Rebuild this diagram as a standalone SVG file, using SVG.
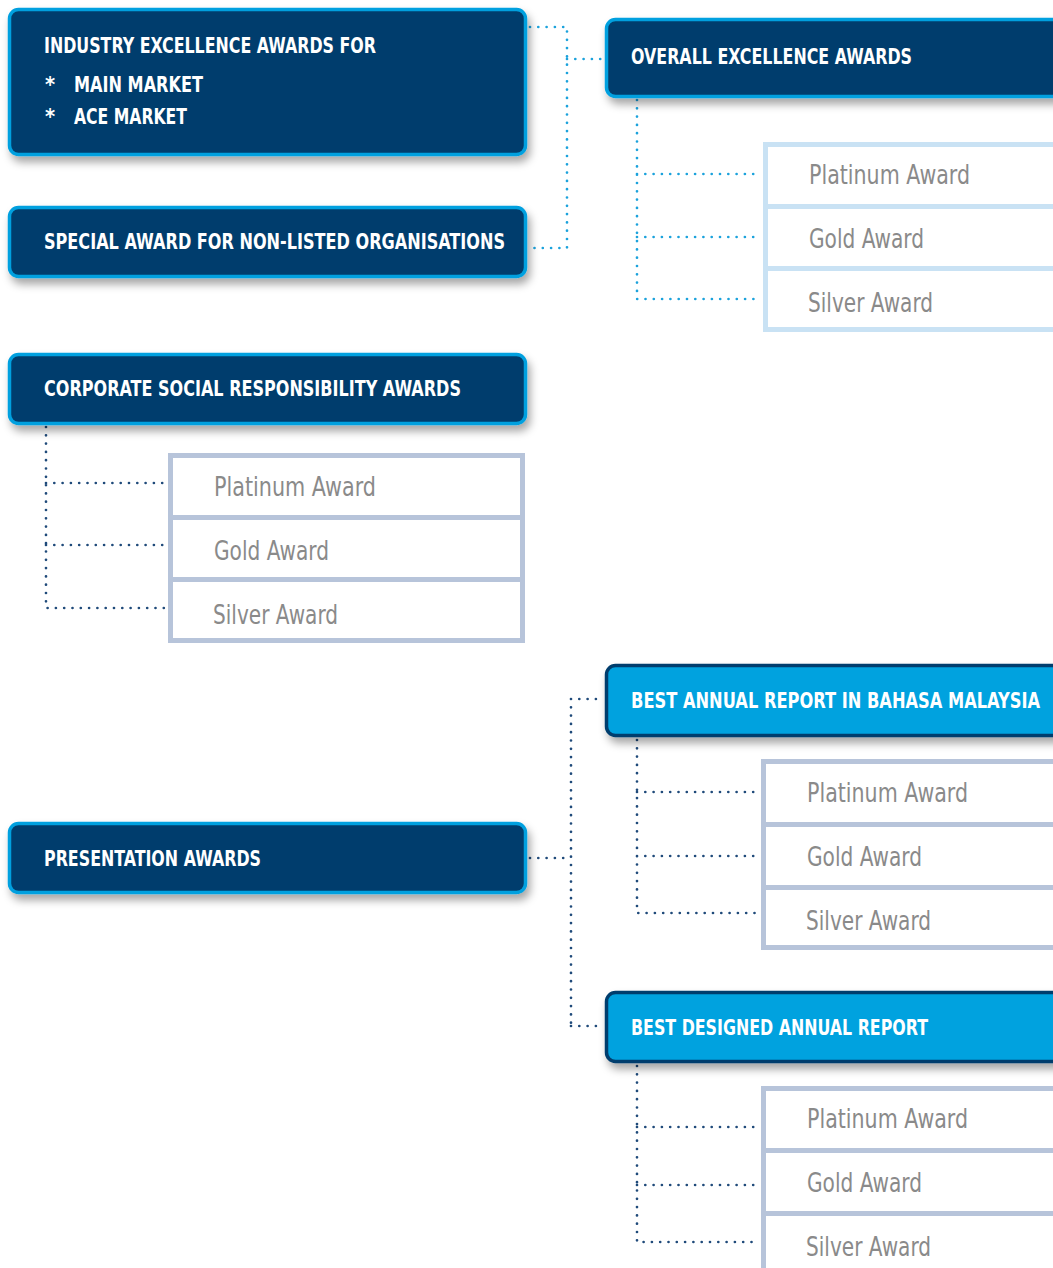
<svg xmlns="http://www.w3.org/2000/svg" width="1053" height="1268" viewBox="0 0 1053 1268">
<style>
.hd{fill:#003e6d;stroke:#00a0df;stroke-width:3.5}
.hl{fill:#00a2df;stroke:#003e6d;stroke-width:3.5}
.ht{font-family:"DejaVu Sans Condensed","Liberation Sans",sans-serif;font-weight:bold;font-size:21.5px;fill:#ffffff}
.lb{fill:#ffffff;stroke:#c9e2f4;stroke-width:5}
.lg{fill:#ffffff;stroke:#b7c4da;stroke-width:5}
.dl{stroke:#c9e2f4;stroke-width:5}
.dg{stroke:#b7c4da;stroke-width:5}
.it{font-family:"DejaVu Sans Condensed","Liberation Sans",sans-serif;font-size:26px;fill:#8a8a8a}
.cc{fill:none;stroke:#1ba2dc;stroke-width:2.7;stroke-linecap:round;stroke-dasharray:0 8.3}
.cn{fill:none;stroke:#1f4a7a;stroke-width:2.7;stroke-linecap:round;stroke-dasharray:0 8.3}
</style>
<defs>
<filter id="sh" x="-10%" y="-20%" width="130%" height="160%">
<feDropShadow dx="3" dy="6" stdDeviation="4" flood-color="#000" flood-opacity="0.35"/>
</filter>
</defs>
<rect width="1053" height="1268" fill="#ffffff"/>
<g id="connectors">
<path class="cc" d="M530,27 H567 V248 H530 M567,59 H603"/>
<path class="cc" d="M637,100 V299 H761 M637,174 H761 M637,237 H761"/>
<path class="cn" d="M46,427 V608 H166 M46,483 H166 M46,545 H166"/>
<path class="cn" d="M530,858 H571 M571,699 V1026 M571,699 H603 M571,1026 H603"/>
<path class="cn" d="M637,740 V913 H759 M637,792 H759 M637,856 H759"/>
<path class="cn" d="M637,1066 V1242 H759 M637,1127 H759 M637,1185 H759"/>
</g>
<g id="industry">
<rect class="hd" x="9.5" y="9.5" width="516" height="145" rx="9" filter="url(#sh)"/>
<text class="ht" x="44" y="53" textLength="332" lengthAdjust="spacingAndGlyphs">INDUSTRY EXCELLENCE AWARDS FOR</text>
<text class="ht" x="45" y="92">*</text>
<text class="ht" x="74" y="92" textLength="129" lengthAdjust="spacingAndGlyphs">MAIN MARKET</text>
<text class="ht" x="45" y="124">*</text>
<text class="ht" x="74" y="124" textLength="113" lengthAdjust="spacingAndGlyphs">ACE MARKET</text>
</g>
<g id="special">
<rect class="hd" x="9.5" y="207.5" width="516" height="69" rx="9" filter="url(#sh)"/>
<text class="ht" x="44" y="249" textLength="461" lengthAdjust="spacingAndGlyphs">SPECIAL AWARD FOR NON-LISTED ORGANISATIONS</text>
</g>
<g id="overall">
<rect class="hd" x="606.5" y="19.5" width="470" height="77" rx="9" filter="url(#sh)"/>
<text class="ht" x="631" y="64" textLength="281" lengthAdjust="spacingAndGlyphs">OVERALL EXCELLENCE AWARDS</text>
</g>
<g id="overall-list">
<rect class="lb" x="765.5" y="144.5" width="320" height="185"/>
<line class="dl" x1="765" y1="206.5" x2="1060" y2="206.5"/>
<line class="dl" x1="765" y1="268.5" x2="1060" y2="268.5"/>
<text class="it" x="809" y="184" textLength="161" lengthAdjust="spacingAndGlyphs">Platinum Award</text>
<text class="it" x="809" y="248" textLength="115" lengthAdjust="spacingAndGlyphs">Gold Award</text>
<text class="it" x="808" y="312" textLength="125" lengthAdjust="spacingAndGlyphs">Silver Award</text>
</g>
<g id="csr">
<rect class="hd" x="9.5" y="354.5" width="516" height="69" rx="9" filter="url(#sh)"/>
<text class="ht" x="44" y="396" textLength="417" lengthAdjust="spacingAndGlyphs">CORPORATE SOCIAL RESPONSIBILITY AWARDS</text>
</g>
<g id="csr-list">
<rect class="lg" x="170.5" y="455.5" width="352" height="185"/>
<line class="dg" x1="170" y1="517.5" x2="523" y2="517.5"/>
<line class="dg" x1="170" y1="579.5" x2="523" y2="579.5"/>
<text class="it" x="214" y="496" textLength="162" lengthAdjust="spacingAndGlyphs">Platinum Award</text>
<text class="it" x="214" y="560" textLength="115" lengthAdjust="spacingAndGlyphs">Gold Award</text>
<text class="it" x="213" y="624" textLength="125" lengthAdjust="spacingAndGlyphs">Silver Award</text>
</g>
<g id="presentation">
<rect class="hd" x="9.5" y="823.5" width="516" height="69" rx="9" filter="url(#sh)"/>
<text class="ht" x="44" y="866" textLength="217" lengthAdjust="spacingAndGlyphs">PRESENTATION AWARDS</text>
</g>
<g id="bahasa">
<rect class="hl" x="606.5" y="665.5" width="470" height="70" rx="9" filter="url(#sh)"/>
<text class="ht" x="631" y="708" textLength="409" lengthAdjust="spacingAndGlyphs">BEST ANNUAL REPORT IN BAHASA MALAYSIA</text>
</g>
<g id="bahasa-list">
<rect class="lg" x="763.5" y="761.5" width="320" height="186"/>
<line class="dg" x1="763" y1="824.5" x2="1060" y2="824.5"/>
<line class="dg" x1="763" y1="887.5" x2="1060" y2="887.5"/>
<text class="it" x="807" y="802" textLength="161" lengthAdjust="spacingAndGlyphs">Platinum Award</text>
<text class="it" x="807" y="866" textLength="115" lengthAdjust="spacingAndGlyphs">Gold Award</text>
<text class="it" x="806" y="930" textLength="125" lengthAdjust="spacingAndGlyphs">Silver Award</text>
</g>
<g id="designed">
<rect class="hl" x="606.5" y="992.5" width="470" height="69" rx="9" filter="url(#sh)"/>
<text class="ht" x="631" y="1035" textLength="297" lengthAdjust="spacingAndGlyphs">BEST DESIGNED ANNUAL REPORT</text>
</g>
<g id="designed-list">
<rect class="lg" x="763.5" y="1088.5" width="320" height="220"/>
<line class="dg" x1="763" y1="1150.5" x2="1060" y2="1150.5"/>
<line class="dg" x1="763" y1="1213.5" x2="1060" y2="1213.5"/>
<text class="it" x="807" y="1128" textLength="161" lengthAdjust="spacingAndGlyphs">Platinum Award</text>
<text class="it" x="807" y="1192" textLength="115" lengthAdjust="spacingAndGlyphs">Gold Award</text>
<text class="it" x="806" y="1256" textLength="125" lengthAdjust="spacingAndGlyphs">Silver Award</text>
</g>
</svg>
